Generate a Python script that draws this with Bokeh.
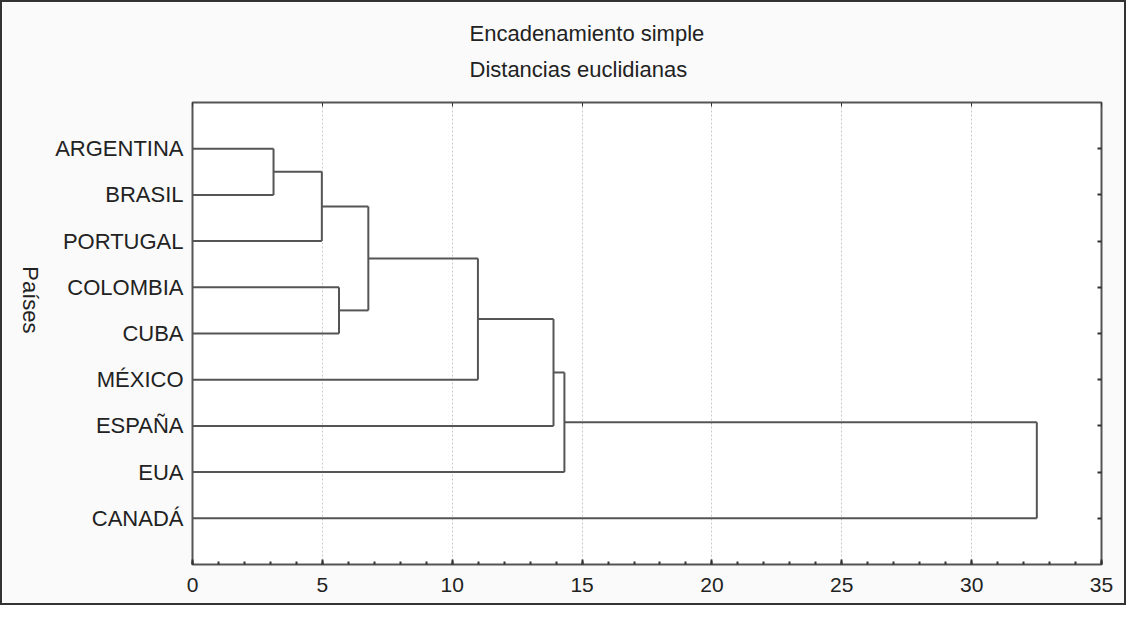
import math
from bokeh.plotting import figure
from bokeh.models import (Range1d, LinearAxis, FixedTicker, SingleIntervalTicker,
                          Title, ColumnDataSource)
from bokeh.embed import file_html
from bokeh.resources import INLINE

# ---- data ----
leaves = ["ARGENTINA", "BRASIL", "PORTUGAL", "COLOMBIA", "CUBA",
          "MÉXICO", "ESPAÑA", "EUA", "CANADÁ"]
# linkage: cluster ids 0..8 are leaves, merges create ids 9, 10, ...
merge_a = [0, 9, 3, 10, 12, 13, 14, 15]
merge_b = [1, 2, 4, 11, 5, 6, 7, 8]
merge_h = [3.12, 4.98, 5.64, 6.77, 10.99, 13.9, 14.32, 32.51]
x_ticks = [0, 5, 10, 15, 20, 25, 30, 35]
title_lines = ["Encadenamiento simple", "Distancias euclidianas"]
y_title = "Países"

# ---- build dendrogram segments ----
pos = {i: i + 1 for i in range(len(leaves))}
hgt = {i: 0.0 for i in range(len(leaves))}
x0s, x1s, y0s, y1s = [], [], [], []
for k, (a, b, h) in enumerate(zip(merge_a, merge_b, merge_h)):
    cid = len(leaves) + k
    for c in (a, b):
        x0s.append(hgt[c]); x1s.append(h); y0s.append(pos[c]); y1s.append(pos[c])
    x0s.append(h); x1s.append(h); y0s.append(pos[a]); y1s.append(pos[b])
    pos[cid] = (pos[a] + pos[b]) / 2.0
    hgt[cid] = h
src = ColumnDataSource(dict(x0=x0s, x1=x1s, y0=y0s, y1=y1s))

FONT = "Liberation Sans"
TXT = "#222222"
W, H = 1126, 605
p = figure(width=W, height=H, output_backend="svg", toolbar_location=None,
           title=None,
           x_range=Range1d(0, 35), y_range=Range1d(len(leaves) + 1, 0),
           x_axis_location=None, y_axis_location=None,
           min_border_left=190, min_border_right=27,
           min_border_top=99, min_border_bottom=43)
p.background_fill_color = "white"
p.border_fill_color = "#fafafa"
p.outline_line_color = "#555555"
p.outline_line_width = 2
p.styles = {"border": "2px solid #333333"}

# grid
p.xgrid.ticker = FixedTicker(ticks=x_ticks)
p.xgrid.grid_line_color = "#c8c8c8"
p.xgrid.grid_line_dash = "2 2"
p.xgrid.grid_line_width = 1
p.ygrid.grid_line_color = None

# bottom axis
xb = LinearAxis(ticker=SingleIntervalTicker(interval=5, num_minor_ticks=5))
xb.axis_line_color = None
xb.major_tick_in = 5; xb.major_tick_out = 0
xb.minor_tick_in = 3; xb.minor_tick_out = 0
xb.major_tick_line_color = "#333333"; xb.minor_tick_line_color = "#333333"
xb.major_tick_line_width = 2; xb.minor_tick_line_width = 2
xb.major_label_text_font = FONT
xb.major_label_text_font_size = "21px"
xb.major_label_text_color = TXT
xb.major_label_standoff = 13
p.add_layout(xb, "below")

# top axis (ticks only)
xt = LinearAxis(ticker=SingleIntervalTicker(interval=5))
xt.axis_line_color = None
xt.major_tick_in = 4; xt.major_tick_out = 0
xt.minor_tick_line_color = None
xt.major_tick_line_color = "#333333"
xt.major_label_text_font_size = "0px"
xt.major_label_text_color = None
xt.major_label_standoff = 0
p.add_layout(xt, "above")

# two-line title
p.add_layout(Title(text="\n".join(title_lines), align="left", offset=277,
                   text_font=FONT, text_font_size="22px",
                   text_font_style="normal", text_color=TXT,
                   text_line_height=1.41, standoff=34), "above")

# left axis (category labels + rotated title)
yl = LinearAxis(ticker=FixedTicker(ticks=list(range(1, len(leaves) + 1))))
yl.major_label_overrides = {i + 1: name for i, name in enumerate(leaves)}
yl.axis_line_color = None
yl.major_tick_line_color = None
yl.major_tick_in = 0; yl.major_tick_out = 0
yl.minor_tick_line_color = None
yl.major_label_text_font = FONT
yl.major_label_text_font_size = "22px"
yl.major_label_text_color = TXT
yl.major_label_standoff = 9
yl.axis_label = y_title
yl.axis_label_text_font = FONT
yl.axis_label_text_font_size = "22px"
yl.axis_label_text_font_style = "normal"
yl.axis_label_text_color = TXT
yl.axis_label_standoff = 22
try:
    yl.axis_label_orientation = -math.pi / 2
except Exception:
    pass
p.add_layout(yl, "left")

# right axis (ticks only)
yr = LinearAxis(ticker=FixedTicker(ticks=list(range(1, len(leaves) + 1))))
yr.axis_line_color = None
yr.major_tick_in = 4; yr.major_tick_out = 0
yr.major_tick_line_color = "#333333"
yr.major_tick_line_width = 2
yr.minor_tick_line_color = None
yr.major_label_text_font_size = "0px"
yr.major_label_text_color = None
p.add_layout(yr, "right")

# dendrogram
p.segment(x0="x0", y0="y0", x1="x1", y1="y1", source=src,
          line_color="#555555", line_width=2)

open("out.html", "w").write(file_html(p, INLINE))
